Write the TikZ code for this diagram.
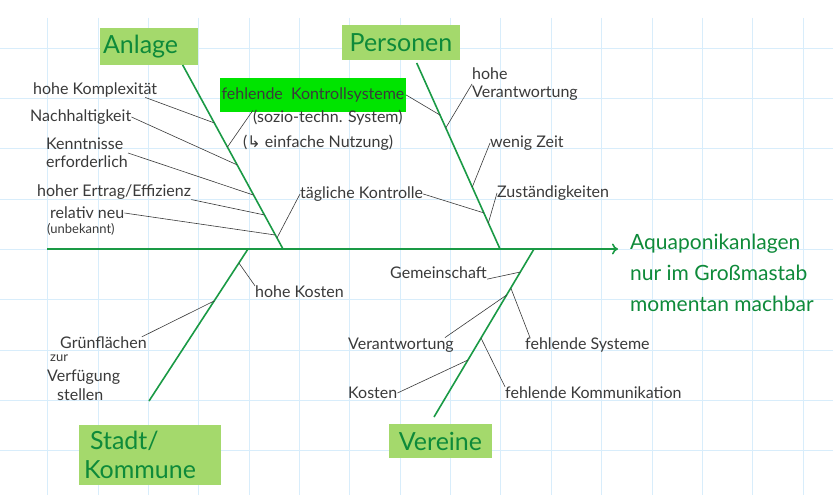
\documentclass[tikz,border=0pt]{standalone}
\usepackage{fontspec}
\setmainfont{Lato}
\newfontfamily\symfont{DejaVu Sans}
\usetikzlibrary{arrows.meta,calc}
\definecolor{gridc}{HTML}{D8EDFB}
\definecolor{bone}{HTML}{1A9A45}
\definecolor{catfill}{HTML}{A4D96C}
\definecolor{cattext}{HTML}{0E8A3A}
\definecolor{hilite}{HTML}{00E400}
\definecolor{ink}{HTML}{3A3A3A}
\begin{document}
\begin{tikzpicture}[x=1pt,y=-1pt,
  gridline/.style={draw=gridc,line width=0.8pt},
  bonel/.style={draw=bone,line width=1.6pt},
  twig/.style={draw=ink,line width=0.6pt},
  lab/.style={font=\fontsize{16}{18}\selectfont,text=ink,inner sep=0pt,anchor=west},
  smalllab/.style={font=\fontsize{13}{15}\selectfont,text=ink,inner sep=0pt,anchor=west},
  cat/.style={fill=catfill,text=cattext,font=\fontsize{25}{28}\selectfont,inner sep=0pt},
  result/.style={text=cattext,font=\fontsize{21}{31}\selectfont,inner sep=0pt,anchor=west,align=left}
]
\useasboundingbox (0,0) rectangle (833,495);
\fill[white] (0,0) rectangle (833,495);
% grid
\foreach \k in {0,...,15} \draw[gridline] ({47.7+50.35*\k},18) -- ({47.7+50.35*\k},495);
\foreach \k in {0,...,8} \draw[gridline] (0,{48+50.35*\k}) -- (833,{48+50.35*\k});

% category boxes
\node[cat,minimum width=98pt,minimum height=37pt,text width=92pt,align=left] (anl) at (149,46.5) {Anlage};
\node[cat,minimum width=118pt,minimum height=35pt] (per) at (401,42.5) {Personen};
\node[cat,minimum width=142pt,minimum height=60pt,text width=132pt,align=left,font=\fontsize{25}{29}\selectfont] (sta) at (150,455) {\hspace*{6pt}Stadt/\\Kommune};
\node[cat,minimum width=103pt,minimum height=34pt] (ver) at (440.5,441) {Vereine};

% bones
\coordinate (spineL) at (47,249);
\coordinate (spineR) at (618,249);
\coordinate (aT) at (182.7,65);  \coordinate (aB) at (283,249);
\coordinate (pT) at (416.7,63);  \coordinate (pB) at (500,249);
\coordinate (sT) at (248,249);   \coordinate (sB) at (149,401);
\coordinate (vT) at (534,249);   \coordinate (vB) at (434,417);
\draw[bonel,-{To[length=6pt,width=11pt]}] (spineL) -- (spineR);
\draw[bonel] (aT) -- (aB);
\draw[bonel] (pT) -- (pB);
\draw[bonel] (sT) -- (sB);
\draw[bonel] (vT) -- (vB);

% points on bones
\coordinate (a1) at ($(aT)!0.315!(aB)$);
\coordinate (aS) at ($(aT)!0.446!(aB)$);
\coordinate (a2) at ($(aT)!0.543!(aB)$);
\coordinate (a3) at ($(aT)!0.707!(aB)$);
\coordinate (a4) at ($(aT)!0.815!(aB)$);
\coordinate (a5) at ($(aT)!0.924!(aB)$);
\coordinate (aK) at ($(aT)!0.94!(aB)$);
\coordinate (pK) at ($(pT)!0.28!(pB)$);
\coordinate (p1) at ($(pT)!0.349!(pB)$);
\coordinate (p2) at ($(pT)!0.667!(pB)$);
\coordinate (pT2) at ($(pT)!0.806!(pB)$);
\coordinate (p3) at ($(pT)!0.86!(pB)$);
\coordinate (s1) at ($(sT)!0.092!(sB)$);
\coordinate (s2) at ($(sT)!0.342!(sB)$);
\coordinate (v1) at ($(vT)!0.137!(vB)$);
\coordinate (v2) at ($(vT)!0.232!(vB)$);
\coordinate (v3) at ($(vT)!0.274!(vB)$);
\coordinate (v4) at ($(vT)!0.53!(vB)$);
\coordinate (v5) at ($(vT)!0.661!(vB)$);

% result
\node[result] (res) at (630,273) {Aquaponikanlagen\\nur im Großmastab\\momentan machbar};

% Anlage labels
\node[lab] (l1) at (33,90) {hohe Komplexität};
\node[lab] (l2) at (30,117) {Nachhaltigkeit};
\node[lab,align=left] (l3) at (46,153) {Kenntnisse\\erforderlich};
\node[lab] (l4) at (37,192) {hoher Ertrag/Effizienz};
\node[lab] (l5) at (50,213) {relativ neu};
\node[smalllab] (l5b) at (47,229) {(unbekannt)};
\node[lab,fill=hilite,minimum height=34pt,minimum width=186pt,anchor=center] (h1) at (313,95) {fehlende\ \ Kontrollsysteme};
\node[lab] (h2) at (253,118) {(sozio-techn. System)};
\node[lab] (h3) at (243,143) {({\symfont ↳} einfache Nutzung)};
\node[lab] (k1) at (300,194) {tägliche Kontrolle};

\draw[twig] ([xshift=-12pt]l1.south east) -- (a1);
\draw[twig] (l2.east) -- (a2);
\draw[twig] (l3.east) -- (a3);
\draw[twig] (l4.south east) -- (a4);
\draw[twig] (l5.east) -- (a5);
\draw[twig] (aS) -- (h2.north west);
\draw[twig] (h1.east) -- (pK);
\draw[twig] (aK) -- (k1.west);
\draw[twig] (k1.east) -- (pT2);

% Personen labels
\node[lab,align=left] (q1) at (472,84) {hohe\\Verantwortung};
\node[lab] (q2) at (490,143) {wenig Zeit};
\node[lab] (q3) at (497,193) {Zuständigkeiten};
\draw[twig] (p1) -- (q1.west);
\draw[twig] (p2) -- (q2.west);
\draw[twig] (p3) -- (q3.west);

% Stadt labels
\node[lab] (r1) at (255,292) {hohe Kosten};
\node[lab] (r2) at (60,343) {Grünflächen};
\node[smalllab] (r3) at (50,358) {zur};
\node[lab] (r4) at (47,377) {Verfügung};
\node[lab] (r5) at (57,395) {stellen};
\draw[twig] (s1) -- (r1.north west);
\draw[twig] ([xshift=-5pt]r2.north east) -- (s2);

% Vereine labels
\node[lab] (u1) at (390,273) {Gemeinschaft};
\node[lab] (u2) at (525,345) {fehlende Systeme};
\node[lab] (u3) at (348,345) {Verantwortung};
\node[lab] (u4) at (505,393) {fehlende Kommunikation};
\node[lab] (u5) at (348,393) {Kosten};
\draw[twig] (u1.south east) -- (v1);
\draw[twig] (v2) -- ([xshift=5pt]u2.north west);
\draw[twig] ([xshift=-9pt]u3.north east) -- (v3);
\draw[twig] (v4) -- (u4.north west);
\draw[twig] (u5.east) -- (v5);
\end{tikzpicture}
\end{document}
